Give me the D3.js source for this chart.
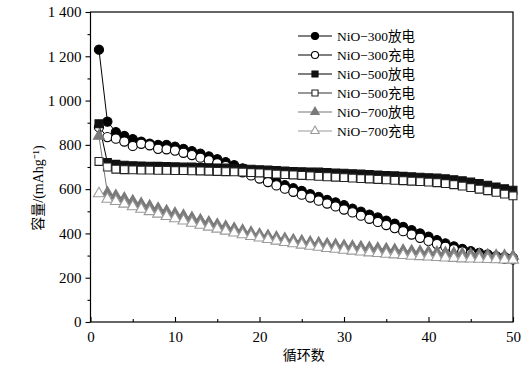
<!DOCTYPE html>
<html><head><meta charset="utf-8">
<script src="https://cdn.jsdelivr.net/npm/d3@7/dist/d3.min.js"></script>
<style>
body{margin:0;background:#fff;}
text{font-family:"Liberation Serif","Times New Roman","Noto Sans CJK SC",serif;}
</style></head>
<body><svg id="c" width="529" height="369"></svg>
<script>
const cycles = d3.range(1, 51);
const seriesNames = ["NiO−300放电","NiO−300充电","NiO−500放电","NiO−500充电","NiO−700放电","NiO−700充电"];
const nio300Discharge = [1230,905,858,840,826,815,806,800,800,792,782,772,760,748,735,722,708,694,679,664,648,633,618,604,592,578,565,552,540,528,512,498,485,472,458,444,430,415,400,385,370,355,342,330,320,312,305,298,294,290];
const nio300Charge = [880,835,828,815,795,805,798,782,780,774,764,754,742,730,717,704,690,676,662,648,632,617,602,588,575,562,548,535,522,508,495,480,466,452,438,424,410,395,380,366,352,340,328,318,308,300,294,290,286,283];
const nio500Discharge = [895,720,712,708,706,705,704,703,702,701,700,700,698,697,696,695,694,692,690,688,686,684,682,680,679,678,677,675,673,672,670,668,666,664,662,660,658,656,654,652,650,647,643,638,632,625,618,610,602,595];
const nio500Charge = [725,700,690,688,687,686,686,685,685,684,684,683,682,681,680,679,678,677,675,673,670,668,666,664,662,660,658,656,654,652,650,648,646,644,642,640,638,636,634,632,629,625,620,614,607,600,593,586,578,570];
const nio700Discharge = [840,583,570,558,546,534,523,512,501,490,480,470,460,450,440,431,422,413,404,396,389,382,376,370,365,360,356,352,348,344,341,338,335,332,329,326,323,320,318,316,314,312,310,308,306,304,302,300,299,298];
const nio700Charge = [580,555,545,533,521,510,499,488,477,467,457,447,438,429,420,411,403,395,387,380,373,366,360,354,348,343,338,333,329,325,321,317,313,310,307,304,301,298,296,294,292,290,288,286,285,284,283,282,281,280];
const yTicks = [0,200,400,600,800,1000,1200,1400];
const xTicks = [0,10,20,30,40,50];
const xLabel = "循环数";
const yLabel = "容量/(mAhg⁻¹)";

const allValues = [nio300Discharge,nio300Charge,nio500Discharge,nio500Charge,nio700Discharge,nio700Charge];
const styles = [
  {shape:"circle", fill:"#000", stroke:"#000", line:"#000"},
  {shape:"circle", fill:"#fff", stroke:"#000", line:"#000"},
  {shape:"square", fill:"#111", stroke:"#111", line:"#000"},
  {shape:"square", fill:"#fff", stroke:"#222", line:"#333"},
  {shape:"triangle", fill:"#7a7a7a", stroke:"#7a7a7a", line:"#777"},
  {shape:"triangle", fill:"#fff", stroke:"#9a9a9a", line:"#9a9a9a"}
];
const symMap = {circle:d3.symbolCircle, square:d3.symbolSquare, triangle:d3.symbolTriangle};
const symSize = {circle:66, square:62, triangle:52};

const svg = d3.select("#c");
const L=90.5, R=513, T=12, B=322;
const x = d3.scaleLinear().domain([0,50]).range([L,R]);
const y = d3.scaleLinear().domain([0,1400]).range([B,T]);
const fmt = v => d3.format(",")(v).replace(",", " ");

// frame
svg.append("rect").attr("x",L).attr("y",T).attr("width",R-L).attr("height",B-T)
  .attr("fill","none").attr("stroke","#000").attr("stroke-width",1.2);

// y axis (outward ticks)
const yAx = svg.append("g").attr("transform",`translate(${L},0)`)
  .call(d3.axisLeft(y).tickValues(yTicks).tickSize(5).tickFormat(fmt));
svg.append("g").attr("transform",`translate(${L},0)`)
  .call(d3.axisLeft(y).tickValues(d3.range(100,1400,200)).tickSize(3).tickFormat(""))
  .call(g=>g.select(".domain").remove());
yAx.selectAll("text").attr("font-size",15).attr("fill","#000").attr("dx","-1");
yAx.select(".domain").remove();

// x axis (inward ticks)
const xAx = svg.append("g").attr("transform",`translate(0,${B})`)
  .call(d3.axisBottom(x).tickValues(xTicks).tickSizeInner(-5).tickSizeOuter(0).tickPadding(9));
svg.append("g").attr("transform",`translate(0,${B})`)
  .call(d3.axisBottom(x).tickValues([5,15,25,35,45]).tickSizeInner(-3).tickSizeOuter(0).tickFormat(""))
  .call(g=>g.select(".domain").remove());
xAx.selectAll("text").attr("font-size",15).attr("fill","#000");
xAx.select(".domain").remove();
svg.selectAll(".tick line").attr("stroke","#000").attr("stroke-width",1.1);

// labels
svg.append("text").attr("x",(L+R)/2+2).attr("y",360).attr("text-anchor","middle")
  .attr("font-size",14).text(xLabel);
svg.append("text").attr("transform","translate(43,188) rotate(-90)").attr("text-anchor","middle")
  .attr("font-size",14).text(yLabel);

// series
allValues.forEach((vals,i)=>{
  const st = styles[i];
  const pts = cycles.map((c,j)=>[c, vals[j]]);
  svg.append("path").datum(pts)
    .attr("d", d3.line().x(d=>x(d[0])).y(d=>y(d[1])))
    .attr("fill","none").attr("stroke",st.line).attr("stroke-width",1);
  svg.append("g").selectAll("path").data(pts).join("path")
    .attr("transform",d=>`translate(${x(d[0])},${y(d[1])})`)
    .attr("d", d3.symbol().type(symMap[st.shape]).size(symSize[st.shape]))
    .attr("fill",st.fill).attr("stroke",st.stroke).attr("stroke-width",1.1);
});

// legend
const lg = svg.append("g");
seriesNames.forEach((name,i)=>{
  const st = styles[i];
  const yy = 36 + i*19;
  lg.append("line").attr("x1",298).attr("x2",332).attr("y1",yy).attr("y2",yy)
    .attr("stroke",st.line).attr("stroke-width",1.1);
  lg.append("path").attr("transform",`translate(315,${yy})`)
    .attr("d", d3.symbol().type(symMap[st.shape]).size(symSize[st.shape]*0.6))
    .attr("fill",st.fill).attr("stroke",st.stroke).attr("stroke-width",1.1);
  lg.append("text").attr("x",337).attr("y",yy+4.5).attr("font-size",13.5).text(name);
});
</script></body></html>
